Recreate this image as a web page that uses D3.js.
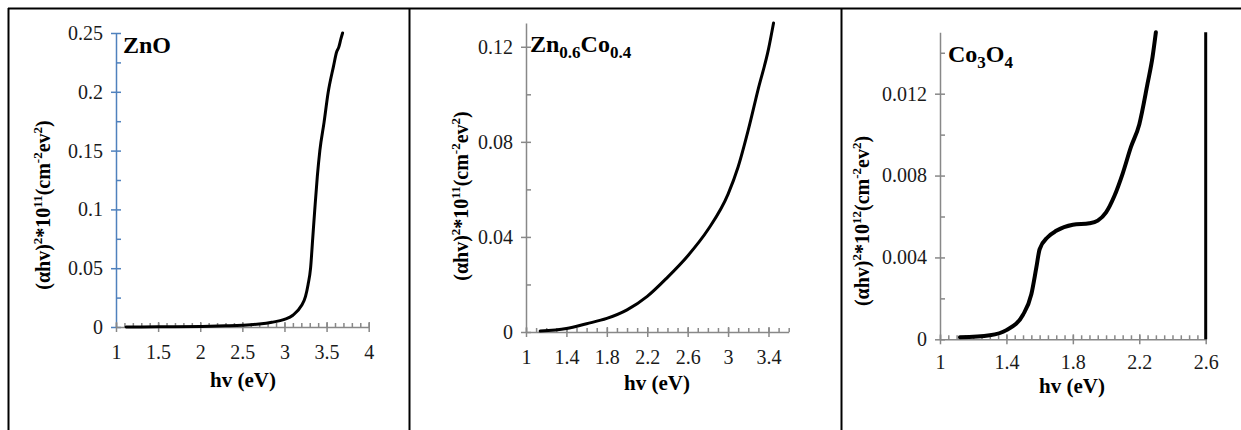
<!DOCTYPE html>
<html>
<head>
<meta charset="utf-8">
<title>Tauc plots</title>
<script src="https://cdn.jsdelivr.net/npm/d3@7"></script>
<style>
  body { margin: 0; background: #fff; overflow: hidden; }
  text { font-family: "Liberation Serif", "Times New Roman", serif; }
</style>
</head>
<body>
<svg id="chart" width="1241" height="430"></svg>
<script>
// ---- data: [hv (eV), (alpha h v)^2 ]
var znoData = [
  [1.12, 0], [1.5, 0.0002], [2.0, 0.0005], [2.3, 0.001], [2.5, 0.0015],
  [2.7, 0.0025], [2.85, 0.004], [3.0, 0.0065], [3.1, 0.010], [3.2, 0.018],
  [3.25, 0.026], [3.28, 0.036], [3.31, 0.05], [3.335, 0.075], [3.36, 0.1],
  [3.39, 0.128], [3.42, 0.15], [3.47, 0.174], [3.52, 0.2], [3.58, 0.221],
  [3.62, 0.234], [3.645, 0.238], [3.67, 0.245], [3.69, 0.25]
];
var znCoData = [
  [1.14, 0.0004], [1.4, 0.0015], [1.6, 0.0035], [1.8, 0.0057], [2.0, 0.0093],
  [2.2, 0.015], [2.4, 0.023], [2.6, 0.032], [2.8, 0.043], [3.0, 0.058],
  [3.1, 0.0695], [3.2, 0.085], [3.3, 0.1025], [3.4, 0.119], [3.45, 0.13]
];
var coData = [
  [1.12, 0.0001], [1.3, 0.0002], [1.4, 0.00045], [1.5, 0.0012], [1.55, 0.0022],
  [1.58, 0.0035], [1.6, 0.0044], [1.65, 0.005], [1.7, 0.0053], [1.8, 0.0056],
  [1.9, 0.00567], [1.95, 0.0058], [2.0, 0.0062], [2.05, 0.007], [2.1, 0.0081],
  [2.15, 0.0094], [2.2, 0.0105], [2.25, 0.0125], [2.28, 0.0138], [2.3, 0.015]
];
// vertical black line at the right end of the Co3O4 plot
var coEdge = [[2.6, 0], [2.6, 0.015]];

var znoXTicks = [1, 1.5, 2, 2.5, 3, 3.5, 4];
var znoYTicks = [0, 0.05, 0.1, 0.15, 0.2, 0.25];
var znCoXTicks = [1, 1.4, 1.8, 2.2, 2.6, 3, 3.4];
var znCoYTicks = [0, 0.04, 0.08, 0.12];
var coXTicks = [1, 1.4, 1.8, 2.2, 2.6];
var coYTicks = [0, 0.004, 0.008, 0.012];

var svg = d3.select("#chart");

// table borders
svg.append("line").attr("x1", 8).attr("x2", 1241).attr("y1", 8.5).attr("y2", 8.5)
  .attr("stroke", "#000").attr("stroke-width", 2);
[8.5, 409.5, 841.5].forEach(function (x) {
  svg.append("line").attr("x1", x).attr("x2", x).attr("y1", 8).attr("y2", 430)
    .attr("stroke", "#000").attr("stroke-width", 2);
});

function range(a, b, step) {
  var out = [];
  var n = Math.round((b - a) / step);
  for (var i = 0; i <= n; i++) out.push(+(a + i * step).toFixed(6));
  return out;
}

function panel(o) {
  var x = d3.scaleLinear().domain(o.xDomain).range([o.left, o.right]);
  var y = d3.scaleLinear().domain(o.yDomain).range([o.bottom, o.top]);
  var g = svg.append("g");

  // y axis
  var ya = g.append("g").attr("transform", "translate(" + o.left + ",0)")
    .call(d3.axisLeft(y).tickValues(o.yTicks).tickSize(5).tickSizeOuter(0)
      .tickFormat(function (d) { return String(d); }));
  ya.select(".domain").attr("stroke", o.yColor).attr("stroke-width", 1.5);
  ya.selectAll(".tick line").attr("x1", 5).attr("x2", -5).attr("stroke", o.yColor).attr("stroke-width", 1.5);
  ya.selectAll(".tick text").attr("x", -13).style("font-size", "20px").attr("fill", "#1a1a1a");
  var ym = g.append("g").attr("transform", "translate(" + o.left + ",0)")
    .call(d3.axisRight(y).tickValues(o.yMinor).tickSize(5).tickSizeOuter(0).tickFormat(""));
  ym.select(".domain").remove();
  ym.selectAll(".tick line").attr("stroke", o.yColor).attr("stroke-width", 1.5);

  // x axis
  var xa = g.append("g").attr("transform", "translate(0," + o.bottom + ")")
    .call(d3.axisBottom(x).tickValues(o.xTicks).tickSize(5).tickSizeOuter(0)
      .tickFormat(function (d) { return String(d); }));
  xa.select(".domain").attr("stroke", "#888").attr("stroke-width", 1.5);
  xa.selectAll(".tick line").attr("y1", -5).attr("y2", 5).attr("stroke", "#888").attr("stroke-width", 1.5);
  xa.selectAll(".tick text").attr("y", o.xLabelGap).style("font-size", "20px").attr("fill", "#1a1a1a");
  var xm = g.append("g").attr("transform", "translate(0," + o.bottom + ")")
    .call(d3.axisTop(x).tickValues(o.xMinor).tickSize(4).tickSizeOuter(0).tickFormat(""));
  xm.select(".domain").remove();
  xm.selectAll(".tick line").attr("stroke", "#888").attr("stroke-width", 1.5);

  // curve
  var line = d3.line().x(function (d) { return x(d[0]); }).y(function (d) { return y(d[1]); })
    .curve(d3.curveMonotoneX);
  g.append("path").datum(o.data).attr("d", line).attr("fill", "none")
    .attr("stroke", "#000").attr("stroke-width", o.lineWidth).attr("stroke-linecap", "round");
  if (o.extra) {
    g.append("path").datum(o.extra).attr("d", d3.line().x(function (d) { return x(d[0]); }).y(function (d) { return y(d[1]); }))
      .attr("fill", "none").attr("stroke", "#000").attr("stroke-width", 3);
  }

  // axis titles
  g.append("text").attr("x", o.xTitleX).attr("y", o.xTitleY).attr("text-anchor", "middle")
    .style("font-size", "21px").style("font-weight", "bold").text("hv (eV)");
  var yt = g.append("text").attr("text-anchor", "middle")
    .attr("transform", "translate(" + o.yTitleX + "," + o.yTitleY + ") rotate(-90)")
    .style("font-size", "20px").style("font-weight", "bold");
  yt.append("tspan").text("(αhv)");
  yt.append("tspan").attr("dy", -8).style("font-size", "13px").text("2");
  yt.append("tspan").attr("dy", 8).text("*10");
  yt.append("tspan").attr("dy", -8).style("font-size", "13px").text(o.power);
  yt.append("tspan").attr("dy", 8).text("(cm");
  yt.append("tspan").attr("dy", -8).style("font-size", "13px").text("-2");
  yt.append("tspan").attr("dy", 8).text("ev");
  yt.append("tspan").attr("dy", -8).style("font-size", "13px").text("2");
  yt.append("tspan").attr("dy", 8).text(")");

  // panel label
  var lab = g.append("text").attr("x", o.labelX).attr("y", o.labelY)
    .style("font-size", o.labelSize + "px").style("font-weight", "bold");
  o.label.forEach(function (p) {
    var t = lab.append("tspan").text(p[0]);
    if (p[1]) t.attr("dy", p[1]);
    if (p[1] > 0) t.style("font-size", Math.round(o.labelSize * 0.72) + "px");
  });
}

panel({
  data: znoData, xDomain: [1, 4], yDomain: [0, 0.25],
  left: 116, right: 368.7, top: 33, bottom: 327,
  xTicks: znoXTicks, yTicks: znoYTicks,
  xMinor: range(1, 4, 0.1), yMinor: range(0.025, 0.225, 0.05),
  yColor: "#4F81BD", lineWidth: 3, xLabelGap: 18,
  xTitleX: 243, xTitleY: 387, yTitleX: 50, yTitleY: 205, power: "11",
  label: [["ZnO"]], labelX: 123, labelY: 53, labelSize: 24
});

panel({
  data: znCoData, xDomain: [1, 3.6], yDomain: [0, 0.13],
  left: 526, right: 788.7, top: 23, bottom: 332,
  xTicks: znCoXTicks, yTicks: znCoYTicks,
  xMinor: range(1, 3.6, 0.1), yMinor: [0.02, 0.06, 0.1],
  yColor: "#888", lineWidth: 3, xLabelGap: 18,
  xTitleX: 657, xTitleY: 390, yTitleX: 468, yTitleY: 196, power: "11",
  label: [["Zn"], ["0.6", 6], ["Co", -6], ["0.4", 6]], labelX: 530, labelY: 52, labelSize: 24
});

panel({
  data: coData, extra: coEdge, xDomain: [1, 2.6], yDomain: [0, 0.015],
  left: 940, right: 1205.7, top: 32.3, bottom: 339.3,
  xTicks: coXTicks, yTicks: coYTicks,
  xMinor: range(1, 2.6, 0.05), yMinor: [0.002, 0.006, 0.01, 0.014],
  yColor: "#888", lineWidth: 4, xLabelGap: 16,
  xTitleX: 1072, xTitleY: 393, yTitleX: 869, yTitleY: 221, power: "12",
  label: [["Co"], ["3", 6], ["O", -6], ["4", 6]], labelX: 948, labelY: 62, labelSize: 24
});
</script>
</body>
</html>
